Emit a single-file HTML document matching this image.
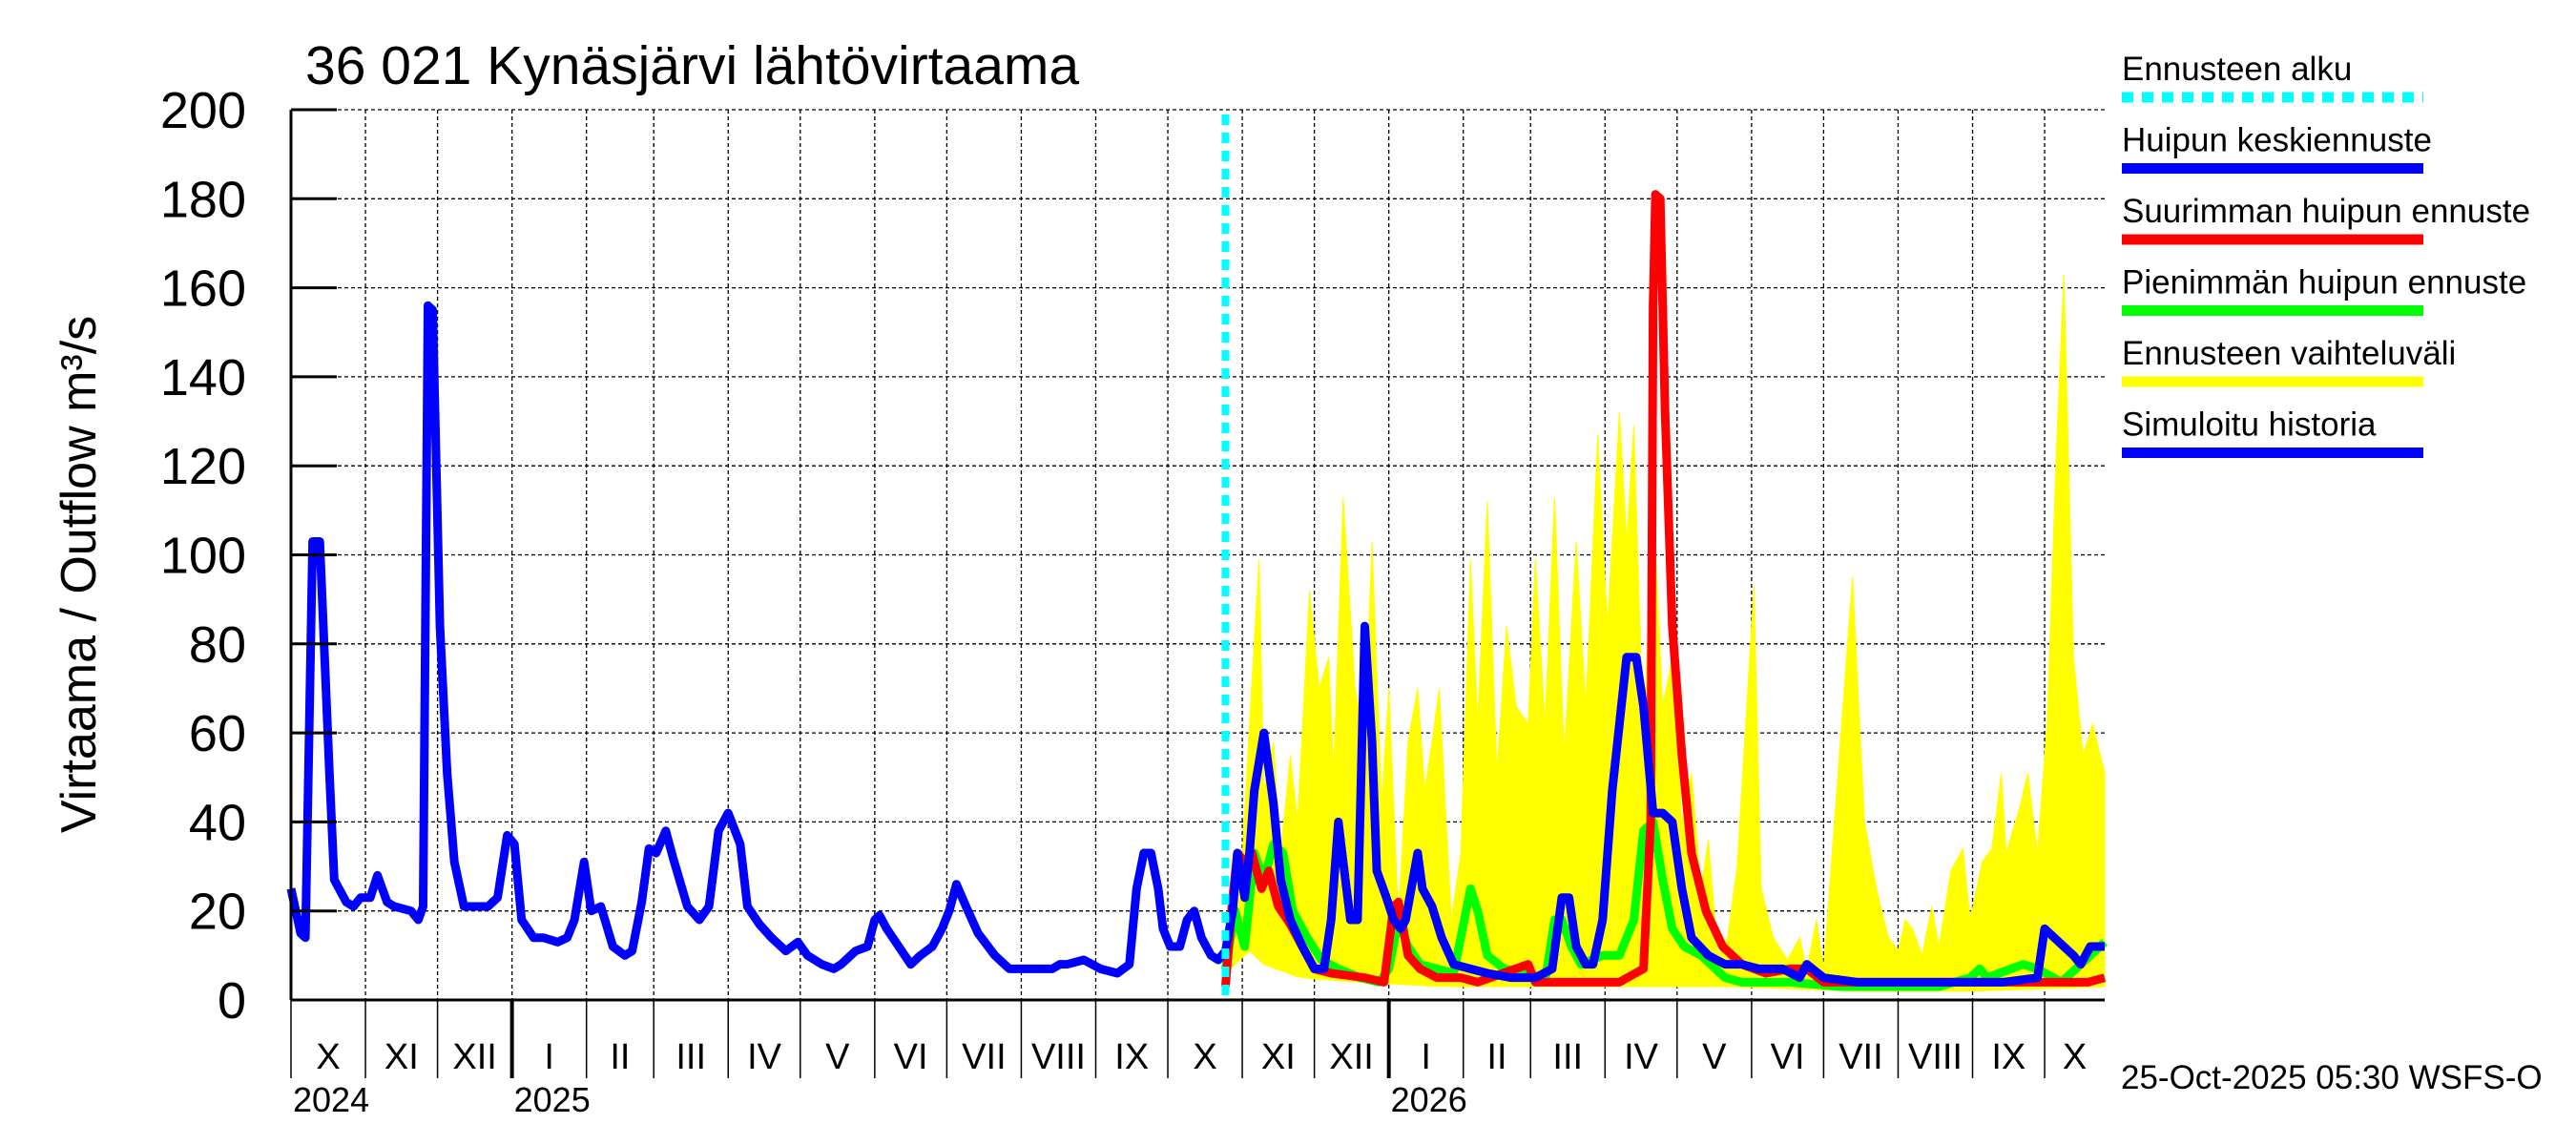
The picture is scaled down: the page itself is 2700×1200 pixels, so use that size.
<!DOCTYPE html>
<html><head><meta charset="utf-8"><style>
html,body{margin:0;padding:0;background:#fff;}
svg{display:block;font-family:"Liberation Sans",sans-serif;}
</style></head><body>
<svg id="chart" width="2700" height="1200" viewBox="0 0 2700 1200" xmlns="http://www.w3.org/2000/svg">
<text x="320" y="88" font-size="57">36 021 Kynäsjärvi lähtövirtaama</text>
<text transform="translate(100,602) rotate(-90)" text-anchor="middle" font-size="52">Virtaama / Outflow    m³/s</text>
<text x="2223" y="1141" font-size="35">25-Oct-2025 05:30 WSFS-O</text>
<g id="legend"></g>
<g id="grid"></g>
<g id="marks"></g>
<g id="axes"></g>
</svg>
<script>
// ---- data (days since 2024-10-01, values m3/s) ----
const yTicks = [0,20,40,60,80,100,120,140,160,180,200];
const monthLabels = ["I","II","III","IV","V","VI","VII","VIII","IX","X","XI","XII"];
const forecastStartDay = 389;
const totalDays = 755;
const histDays = [0,4,6,9,12,16,18,23,26,29,33,36,40,43,50,53,55,57,59,62,65,68,72,77,82,86,90,93,96,101,105,111,115,118,122,125,129,134,139,142,146,149,152,156,159,165,170,174,178,182,187,190,195,200,206,211,215,221,226,229,235,240,243,245,248,253,258,262,267,271,274,277,281,286,293,299,310,317,320,323,330,337,344,349,352,355,358,361,363,366,370,373,376,379,383,386,389];
const histVals = [25,15,14,103,103,51,27,22,21,23,23,28,22,21,20,18,21,156,155,84,51,31,21,21,21,23,37,35,18,14,14,13,14,18,31,20,21,12,10,11,22,34,33,38,32,21,18,21,38,42,35,21,17,14,11,13,10,8,7,8,11,12,18,19,16,12,8,10,12,16,20,26,21,15,10,7,7,7,8,8,9,7,6,8,25,33,33,25,16,12,12,18,20,14,10,9,11];
const meanDays = [389,392,394,397,399,401,405,409,412,416,421,426,430,433,436,438,441,444,447,450,452,456,459,462,464,469,471,475,479,484,491,498,508,518,525,529,532,535,539,542,546,550,556,560,563,567,571,575,579,583,590,597,604,611,621,628,631,638,652,672,693,713,727,730,734,738,742,745,749,755];
const meanVals = [11,20,33,23,33,47,60,44,27,18,12,7,7,18,40,31,18,18,84,58,29,23,18,16,18,33,25,21,14,8,7,6,5,5,7,23,23,12,8,8,18,47,77,77,66,42,42,40,25,14,10,8,8,7,7,5,8,5,4,4,4,4,5,16,14,12,10,8,12,12];
const maxDays = [389,392,394,397,400,404,407,411,416,421,426,433,447,455,459,461,465,470,477,487,494,515,518,542,553,563,566,567,568,570,572,575,579,583,589,596,604,614,624,631,638,658,699,727,748,755];
const maxVals = [3,23,33,31,33,25,29,21,17,12,7,6,5,4,21,22,10,7,5,5,4,8,4,4,4,7,40,156,181,180,132,84,55,33,20,12,8,6,7,7,4,4,4,4,4,5];
const minDays = [389,393,397,401,405,409,413,417,423,429,436,445,453,457,461,465,470,477,484,491,494,498,505,515,522,526,529,533,537,546,553,559,563,567,571,575,580,587,597,604,624,645,686,699,703,706,716,721,727,737,745,751,755];
const minVals = [7,20,12,33,27,35,33,20,14,9,7,5,4,7,18,12,8,7,6,25,20,10,7,6,4,18,18,12,8,10,10,18,38,40,27,16,12,10,5,4,4,3,3,5,7,5,7,8,7,4,8,11,13];
const bandHiDays = [389,392,395,399,403,405,409,412,416,419,424,428,432,434,438,443,447,450,454,457,461,465,469,472,475,478,483,487,491,494,498,502,506,510,515,518,522,526,530,535,539,544,548,553,556,559,563,567,571,575,579,583,587,590,594,598,602,609,612,617,623,628,631,635,638,650,655,660,665,669,672,675,679,683,686,691,696,699,704,708,712,714,720,723,727,731,735,738,742,746,750,755];
const bandHiVals = [7,33,22,62,99,47,58,33,55,40,92,70,77,51,113,70,58,103,44,70,18,58,70,47,58,70,18,33,99,62,112,51,84,66,62,99,62,113,55,103,66,127,84,132,103,129,58,113,66,77,40,51,25,36,10,14,30,93,25,14,9,14,7,18,7,95,40,25,14,11,18,16,10,21,12,29,34,18,31,34,51,33,44,51,33,62,125,163,77,55,62,51];
const bandLoDays = [389,399,405,420,445,480,520,560,600,650,700,755];
const bandLoVals = [6,11,8,5,4,3,3,3,3,2,2,3];

// ---- axes ----
const X0=305, X1=2206, Y0=1048, Y1=115;
const xs = d => X0 + d*(X1-X0)/totalDays;
const ys = v => Y0 - v*(Y0-Y1)/200;
const NS="http://www.w3.org/2000/svg";
function mk(tag, parent, attrs){const e=document.createElementNS(NS,tag);for(const k in attrs)e.setAttribute(k,attrs[k]);parent.appendChild(e);return e;}
const grid=document.getElementById('grid'), marks=document.getElementById('marks'), axes=document.getElementById('axes'), legend=document.getElementById('legend');

yTicks.forEach(v=>{
  if(v>0){const g=mk('line',grid,{x1:X0,x2:X1,y1:ys(v),y2:ys(v),stroke:'#000','stroke-width':1.3,'stroke-dasharray':'4,3'});
  
  }
  const t=mk('line',axes,{x1:X0,x2:X0+48,y1:ys(v),y2:ys(v),stroke:'#000','stroke-width':3});
  
  
  const l=mk('text',axes,{x:258,y:ys(v)+19,'text-anchor':'end','font-size':54});
  l.textContent=v;
  
  
});

const base=new Date(Date.UTC(2024,9,1));
const dayOf=dt=>Math.round((dt-base)/86400000);
let bounds=[];
for(let i=0;i<26;i++){const dt=new Date(Date.UTC(2024,9+i,1));const d=dayOf(dt);if(d>totalDays)break;bounds.push({d,m:dt.getUTCMonth(),y:dt.getUTCFullYear()});}
bounds.forEach((b,i)=>{
  const x=xs(b.d);
  if(b.d>0){const g=mk('line',grid,{x1:x,x2:x,y1:Y1,y2:Y0,stroke:'#000','stroke-width':1.3,'stroke-dasharray':'4,3'});
  
  }
  const isYear=b.m===0;
  const t=mk('line',axes,{x1:x,x2:x,y1:Y0,y2:1130,stroke:'#000','stroke-width':isYear?4:1.5});
  
  
  const end=i+1<bounds.length?bounds[i+1].d:totalDays;
  const lab=mk('text',axes,{x:(xs(b.d)+xs(end))/2,y:1120,'text-anchor':'middle','font-size':38});
  lab.textContent=monthLabels[b.m];
  
  
  if(i===0||isYear){const yl=mk('text',axes,{x:x+2,y:1165,'font-size':36});
  yl.textContent=b.y;
  
  }
});

function interp(ds,vs,d){for(let i=1;i<ds.length;i++){if(d<=ds[i]){const t=(d-ds[i-1])/(ds[i]-ds[i-1]);return vs[i-1]+t*(vs[i]-vs[i-1]);}}return vs[vs.length-1];}
let bp=bandHiDays.map((d,i)=>xs(d)+','+ys(bandHiVals[i]));
for(let i=bandHiDays.length-1;i>=0;i--){const d=bandHiDays[i];bp.push(xs(d)+','+ys(interp(bandLoDays,bandLoVals,d)));}
const band=mk('polygon',marks,{points:bp.join(' '),fill:'#ffff00',stroke:'#ffff00','stroke-width':1});



function line(ds,vs,color,name){
  const p=mk('polyline',marks,{points:ds.map((d,i)=>xs(d)+','+ys(vs[i])).join(' '),fill:'none',stroke:color,'stroke-width':9,'stroke-linejoin':'round'});
  
  
}
line(minDays,minVals,'#00ff00','min-peak-forecast-line');
line(maxDays,maxVals,'#ff0000','max-peak-forecast-line');
line(meanDays,meanVals,'#0000ff','mean-peak-forecast-line');
line(histDays,histVals,'#0000ff','simulated-history-line');

const fs=mk('line',marks,{x1:xs(forecastStartDay),x2:xs(forecastStartDay),y1:Y1+5,y2:Y0,stroke:'#00ffff','stroke-width':8,'stroke-dasharray':'11,8'});



const ax=mk('line',axes,{x1:X0,x2:X0,y1:Y1,y2:Y0,stroke:'#000','stroke-width':3});


const bx=mk('line',axes,{x1:X0,x2:X1,y1:Y0,y2:Y0,stroke:'#000','stroke-width':3});



const legNames=["Ennusteen alku","Huipun keskiennuste","Suurimman huipun ennuste","Pienimmän huipun ennuste","Ennusteen vaihteluväli","Simuloitu historia"];
const legColors=["#00ffff","#0000ff","#ff0000","#00ff00","#ffff00","#0000ff"];
legNames.forEach((n,i)=>{
  const ty=84+i*74.5;
  const t=mk('text',legend,{x:2224,y:ty,'font-size':35});
  t.textContent=n;
  
  
  const a={x1:2224,x2:2540,y1:ty+18,y2:ty+18,stroke:legColors[i],'stroke-width':11};
  if(i===0)a['stroke-dasharray']='12,9';
  const l=mk('line',legend,a);
  
  
});
</script>
</body></html>
